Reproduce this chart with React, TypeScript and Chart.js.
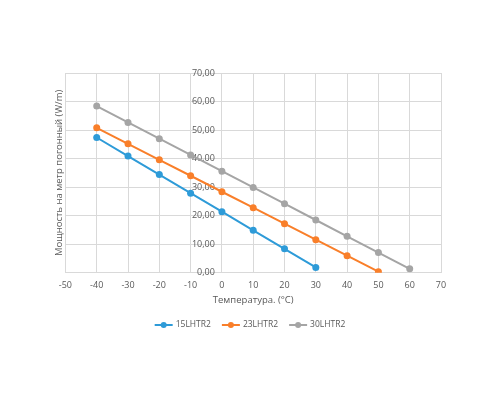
import React, { useEffect, useRef } from "react";
import { Chart, registerables } from "chart.js";

Chart.register(...registerables);

const temps15: number[] = [-40, -30, -20, -10, 0, 10, 20, 30];
const power15: number[] = [47.4, 40.9, 34.4, 27.9, 21.4, 14.9, 8.4, 1.9];

const temps23: number[] = [-40, -30, -20, -10, 0, 10, 20, 30, 40, 50];
const power23: number[] = [50.8, 45.2, 39.6, 34.0, 28.4, 22.8, 17.2, 11.6, 6.0, 0.4];

const temps30: number[] = [-40, -30, -20, -10, 0, 10, 20, 30, 40, 50, 60];
const power30: number[] = [58.4, 52.7, 47.0, 41.3, 35.6, 29.9, 24.2, 18.5, 12.8, 7.1, 1.4];

const seriesNames: string[] = ["15LHTR2", "23LHTR2", "30LHTR2"];
const seriesColors: string[] = ["#2E9BD8", "#F97F2A", "#A5A5A5"];

const xTitle = "Температура. (°C)";
const yTitle = "Мощность на метр погонный (W/m)";

const FONT = "'Open Sans', 'Noto Sans', sans-serif";
const TEXT_COLOR = "#595959";
const GRID_COLOR = "#D9D9D9";

const toPoints = (xs: number[], ys: number[]) => xs.map((x, i) => ({ x, y: ys[i] }));

const legendPlugin = {
  id: "customLegend",
  afterDraw(chart: any) {
    const ctx = chart.ctx as CanvasRenderingContext2D;
    const y = 325;
    ctx.save();
    ctx.font = `8.5px ${FONT}`;
    ctx.textBaseline = "middle";
    const lineW = 18;
    const gap = 3;
    const itemGap = 11;
    const widths = chart.data.datasets.map((d: any) => lineW + gap + ctx.measureText(d.label).width);
    const total = widths.reduce((a: number, b: number) => a + b, 0) + itemGap * (widths.length - 1);
    let x = chart.width / 2 - total / 2;
    chart.data.datasets.forEach((d: any, i: number) => {
      const c = d.borderColor;
      ctx.strokeStyle = c;
      ctx.lineWidth = 2;
      ctx.beginPath();
      ctx.moveTo(x, y);
      ctx.lineTo(x + lineW, y);
      ctx.stroke();
      ctx.fillStyle = c;
      ctx.beginPath();
      ctx.arc(x + lineW / 2, y, 3, 0, Math.PI * 2);
      ctx.fill();
      ctx.fillStyle = TEXT_COLOR;
      ctx.textAlign = "left";
      ctx.fillText(d.label, x + lineW + gap, y);
      x += widths[i] + itemGap;
    });
    ctx.restore();
  },
};

export default function App() {
  const ref = useRef<HTMLCanvasElement | null>(null);

  useEffect(() => {
    if (!ref.current) return;
    const mk = (i: number, xs: number[], ys: number[]) => ({
      label: seriesNames[i],
      data: toPoints(xs, ys),
      borderColor: seriesColors[i],
      backgroundColor: seriesColors[i],
      borderWidth: 2,
      pointRadius: 3.5,
      pointHoverRadius: 3.5,
      pointBorderWidth: 0,
      showLine: true,
      tension: 0,
    });
    const chart = new Chart(ref.current, {
      type: "scatter",
      data: {
        datasets: [mk(0, temps15, power15), mk(1, temps23, power23), mk(2, temps30, power30)],
      },
      options: {
        animation: false,
        responsive: false,
        devicePixelRatio: 1,
        layout: { padding: { top: 73, right: 59, bottom: 94, left: 44 } },
        plugins: { legend: { display: false }, tooltip: { enabled: false } },
        scales: {
          x: {
            type: "linear",
            position: "bottom",
            min: -50,
            max: 70,
            ticks: { stepSize: 10, color: TEXT_COLOR, font: { family: FONT, size: 9 }, padding: 7 },
            grid: { color: GRID_COLOR, lineWidth: 1, drawTicks: false },
            border: { display: false },
            title: { display: true, text: xTitle, color: TEXT_COLOR, font: { family: FONT, size: 9.5 }, padding: { top: -3, bottom: 0 } },
          },
          y: {
            type: "linear",
            position: { x: 0 },
            min: 0,
            max: 70,
            ticks: {
              stepSize: 10,
              color: TEXT_COLOR,
              font: { family: FONT, size: 9 },
              padding: 0,
              callback: (v: any) => Number(v).toFixed(2).replace(".", ",") + "   ",
            },
            grid: { color: GRID_COLOR, lineWidth: 1, drawTicks: false },
            border: { display: true, color: GRID_COLOR },
          },
          yt: {
            type: "linear",
            position: "left",
            min: 0,
            max: 70,
            ticks: { display: false },
            grid: { display: false, drawTicks: false },
            border: { display: false },
            title: { display: true, text: yTitle, color: TEXT_COLOR, font: { family: FONT, size: 9.5 }, padding: { top: 10, bottom: 0 } },
          },
        },
      },
      plugins: [legendPlugin],
    });
    return () => chart.destroy();
  }, []);

  return (
    <div style={{ position: "absolute", left: 0, top: 0, width: 500, height: 400, background: "#fff" }}>
      <canvas ref={ref} width={500} height={400} style={{ width: 500, height: 400 }} />
    </div>
  );
}
